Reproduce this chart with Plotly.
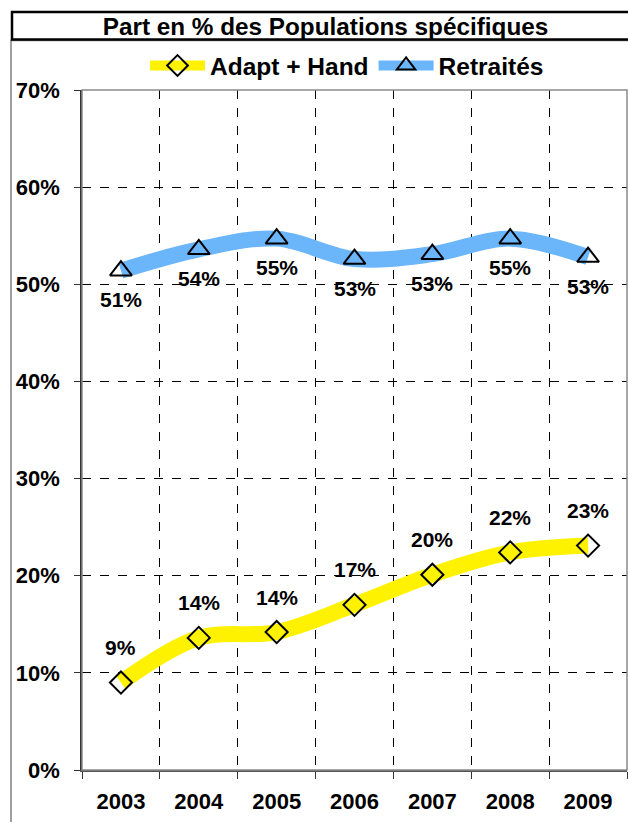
import plotly.graph_objects as go

years = ["2003", "2004", "2005", "2006", "2007", "2008", "2009"]
adapt_hand = [9.0, 13.6, 14.2, 17.0, 20.1, 22.4, 23.1]
retraites = [51.4, 53.6, 54.7, 52.6, 53.1, 54.7, 52.8]
y_ticks = [0, 10, 20, 30, 40, 50, 60, 70]

W, H = 628, 822
L, R, T, B = 82, 627, 89.5, 770.5
FONT = "Liberation Sans, Arial, sans-serif"


def px_x(p):
    return (p - L) / (R - L)


def px_y(p):
    return (B - p) / (B - T)


fig = go.Figure()
fig.add_trace(go.Scatter(
    x=years, y=adapt_hand, name="Adapt + Hand", mode="lines+markers",
    line=dict(color="#FFF200", width=16, shape="spline", smoothing=1.0),
    marker=dict(symbol="diamond-open", size=17, color="black", line=dict(width=2, color="black")),
))
fig.add_trace(go.Scatter(
    x=years, y=retraites, name="Retraités", mode="lines+markers",
    line=dict(color="#6BB5FA", width=16, shape="spline", smoothing=1.0),
    marker=dict(symbol="triangle-up-open", size=19, color="black", line=dict(width=2, color="black")),
))

annotations = []
for i, v in enumerate(adapt_hand):
    annotations.append(dict(x=i, y=v, xref="x", yref="y", text=f"{v:.0f}%", showarrow=False,
                            yshift=35, font=dict(family=FONT, size=21, color="black", weight="bold")))
for i, v in enumerate(retraites):
    annotations.append(dict(x=i, y=v, xref="x", yref="y", text=f"{v:.0f}%", showarrow=False,
                            yshift=-29, font=dict(family=FONT, size=21, color="black", weight="bold")))

shapes = [
    # outer chart box (grey)
    dict(type="rect", xref="paper", yref="paper", x0=px_x(11), x1=px_x(660), y0=px_y(860), y1=px_y(40),
         line=dict(color="#808080", width=1.5), layer="below"),
    # title box (black)
    dict(type="rect", xref="paper", yref="paper", x0=px_x(12), x1=px_x(660), y0=px_y(39), y1=px_y(11.5),
         line=dict(color="black", width=2.5), layer="below"),
    # plot area border (top/right)
    dict(type="rect", xref="paper", yref="paper", x0=0, x1=1, y0=0, y1=1,
         line=dict(color="#8a8a8a", width=1.5), layer="above"),
]

fig.update_layout(
    width=W, height=H,
    margin=dict(l=L, r=W - R, t=T, b=H - B, pad=0),
    paper_bgcolor="white", plot_bgcolor="white",
    font=dict(family=FONT, color="black"),
    title=dict(text="Part en % des Populations spécifiques", x=325.5 / W, xanchor="center",
               y=1 - 26 / H, yanchor="middle", yref="container",
               font=dict(family=FONT, size=24.3, color="black", weight="bold")),
    legend=dict(orientation="h", x=px_x(347), xanchor="center", y=px_y(65), yanchor="middle",
                font=dict(family=FONT, size=24.5, color="black", weight="bold"),
                itemwidth=55, bgcolor="rgba(0,0,0,0)", tracegroupgap=0),
    showlegend=True,
    annotations=annotations,
    shapes=shapes,
)

fig.update_xaxes(
    type="category", tickson="boundaries", range=[-0.5, 6.5],
    showgrid=True, gridcolor="black", gridwidth=1, griddash="dash",
    showline=True, linecolor="#555555", linewidth=2,
    ticks="outside", ticklen=7, tickcolor="#333333", tickwidth=1,
    ticklabelstandoff=11,
    tickfont=dict(family=FONT, size=22, color="black", weight="bold"),
)
fig.update_yaxes(
    range=[0, 70], tickvals=y_ticks, ticktext=[f"{v}%" for v in y_ticks],
    showgrid=True, gridcolor="black", gridwidth=1, griddash="dash", zeroline=False,
    showline=True, linecolor="#333333", linewidth=1.5,
    ticks="outside", ticklen=6, tickcolor="#333333", tickwidth=1,
    ticklabelstandoff=10,
    tickfont=dict(family=FONT, size=22, color="black", weight="bold"),
)

fig.write_html("out.html", config={"displayModeBar": False},
               post_script="document.body.style.margin='0';")
